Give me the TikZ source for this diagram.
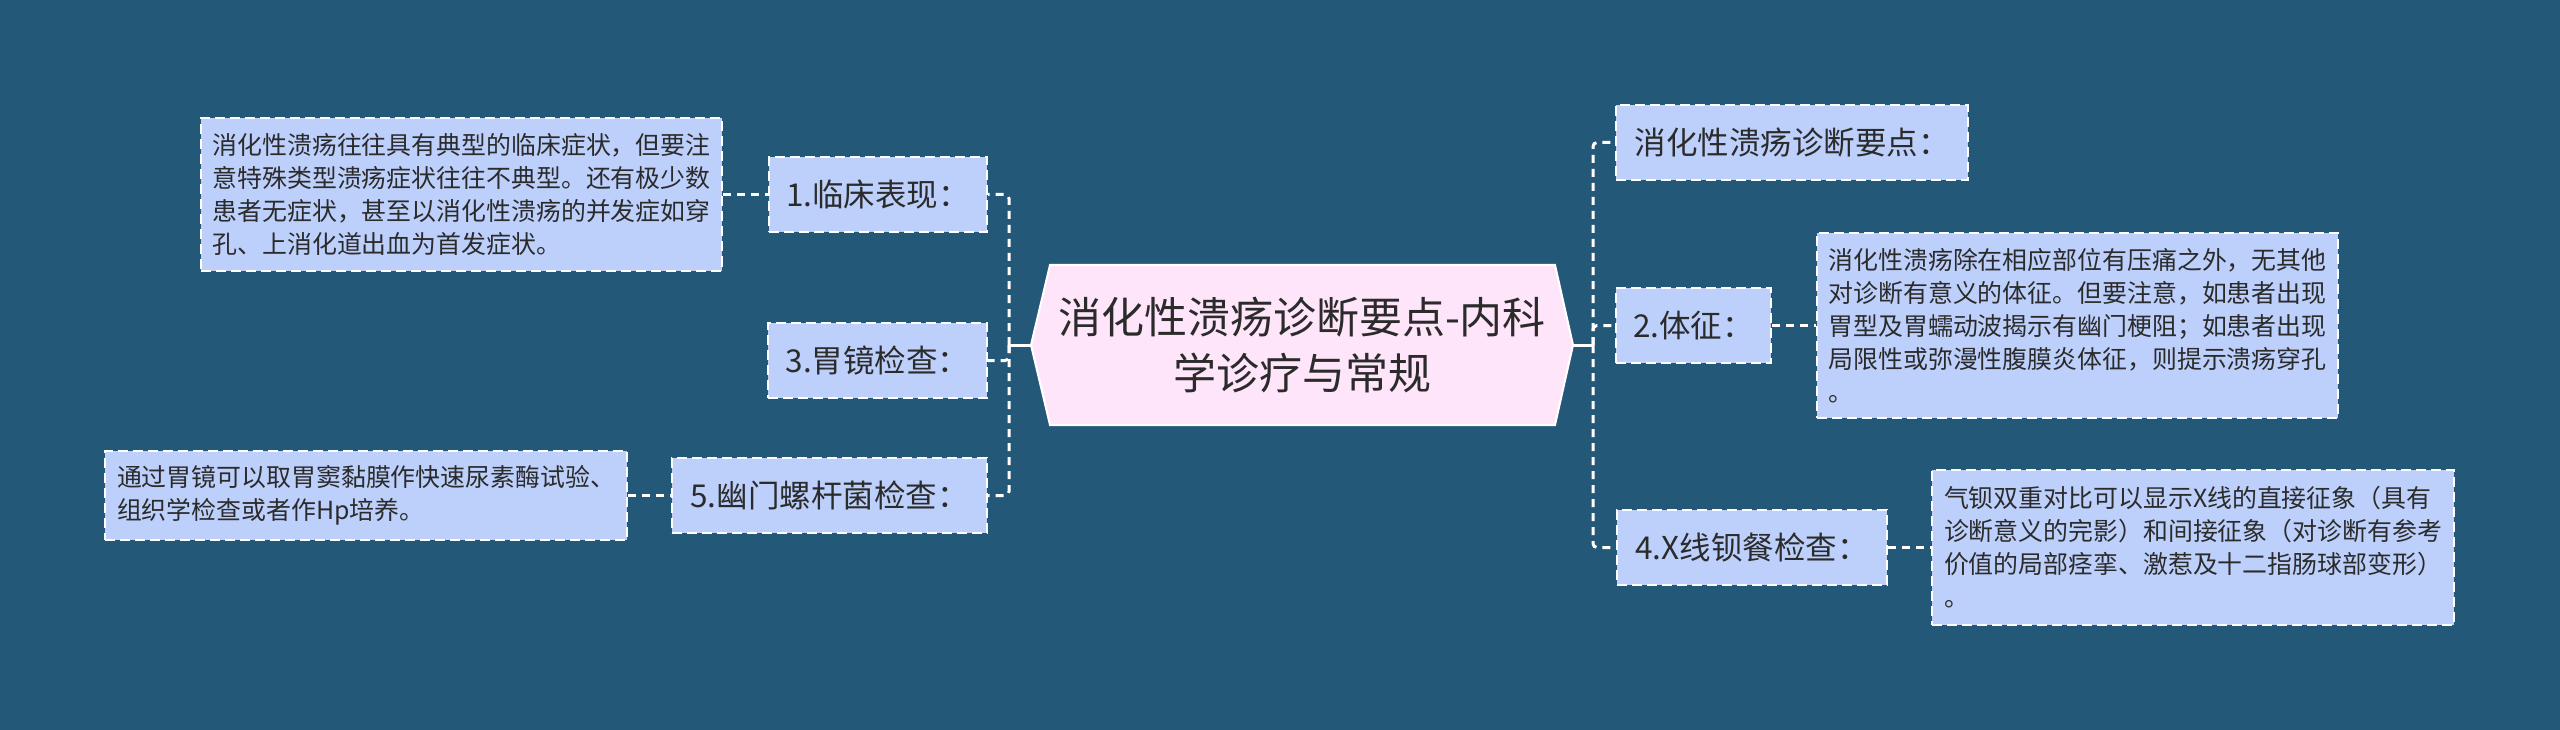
\documentclass[tikz,border=0pt]{standalone}
\usepackage{fontspec}
\newfontfamily\cjk{Noto Sans CJK SC}
\definecolor{bgc}{HTML}{245879}
\definecolor{nodefill}{HTML}{BDD0FB}
\definecolor{centerfill}{HTML}{FFE5FA}
\definecolor{textc}{HTML}{2B2B2B}
\tikzset{
  branchbox/.style={draw=white, line width=2pt, dash pattern=on 10pt off 5pt, fill=nodefill,
    text=textc, font=\cjk\fontsize{31.5}{36}\selectfont, minimum height=75pt, inner sep=0pt, anchor=center},
  descbox/.style={draw=white, line width=2pt, dash pattern=on 10pt off 5pt, fill=nodefill,
    text=textc, font=\cjk\fontsize{24.9}{33}\selectfont, align=left, inner sep=0pt, anchor=center},
  dashconn/.style={draw=white, line width=3pt, dash pattern=on 8pt off 6pt},
  solidconn/.style={draw=white, line width=3pt},
}
\begin{document}
\begin{tikzpicture}[x=1pt,y=-1pt]
\useasboundingbox (0,0) rectangle (2560,730);
\fill[bgc] (0,0) rectangle (2560,730);

% central hexagon
\draw[white, line width=2pt, fill=centerfill]
  (1031,345) -- (1050,265) -- (1555,265) -- (1573,345) -- (1555,425) -- (1050,425) -- cycle;
\node[font=\cjk\fontsize{43}{56}\selectfont, text=textc, align=center] (ctr) at (1302,345)
  {消化性溃疡诊断要点-内科\\学诊疗与常规};
\coordinate (hl) at (1031,345);
\coordinate (hr) at (1573,345);
\coordinate (jl) at (1009,345);
\coordinate (jr) at (1593,345);

% left branches
\node[branchbox, minimum width=218pt] (n1) at (878,194.5) {1.临床表现：};
\node[branchbox, minimum width=219pt] (n3) at (877.5,360.5) {3.胃镜检查：};
\node[branchbox, minimum width=315pt] (n5) at (829.5,495.5) {5.幽门螺杆菌检查：};

\node[descbox, minimum width=521pt, minimum height=152pt] (ta) at (461.5,194.5)
  {消化性溃疡往往具有典型的临床症状，但要注\\意特殊类型溃疡症状往往不典型。还有极少数\\患者无症状，甚至以消化性溃疡的并发症如穿\\孔、上消化道出血为首发症状。};
\node[descbox, minimum width=522pt, minimum height=89pt] (tb) at (366,495.5)
  {通过胃镜可以取胃窦黏膜作快速尿素酶试验、\\组织学检查或者作Hp培养。};

% right branches
\node[branchbox, minimum width=352pt] (n0) at (1792,142.5) {消化性溃疡诊断要点：};
\node[branchbox, minimum width=155pt] (n2) at (1693.5,325.5) {2.体征：};
\node[branchbox, minimum width=270pt] (n4) at (1752,547.5) {4.X线钡餐检查：};

\node[descbox, minimum width=521pt, minimum height=185pt] (tc) at (2077.5,325.5)
  {消化性溃疡除在相应部位有压痛之外，无其他\\对诊断有意义的体征。但要注意，如患者出现\\胃型及胃蠕动波揭示有幽门梗阻；如患者出现\\局限性或弥漫性腹膜炎体征，则提示溃疡穿孔\\。};
\node[descbox, minimum width=522pt, minimum height=155pt] (td) at (2193,547.5)
  {气钡双重对比可以显示X线的直接征象（具有\\诊断意义的完影）和间接征象（对诊断有参考\\价值的局部痉挛、激惹及十二指肠球部变形）\\。};

% connectors
\draw[solidconn] (hl) -- (jl);
\draw[solidconn] (hr) -- (jr);
\draw[dashconn, rounded corners=4pt] (jl) |- (n1.east);
\draw[dashconn, rounded corners=4pt] (jl) |- (n3.east);
\draw[dashconn, rounded corners=4pt] (jl) |- (n5.east);
\draw[dashconn, rounded corners=4pt] (jr) |- (n0.west);
\draw[dashconn, rounded corners=4pt] (jr) |- (n2.west);
\draw[dashconn, rounded corners=4pt] (jr) |- (n4.west);
\draw[dashconn] (ta.east) -- (n1.west);
\draw[dashconn] (tb.east) -- (n5.west);
\draw[dashconn] (n2.east) -- (tc.west);
\draw[dashconn] (n4.east) -- (td.west);
\end{tikzpicture}
\end{document}
